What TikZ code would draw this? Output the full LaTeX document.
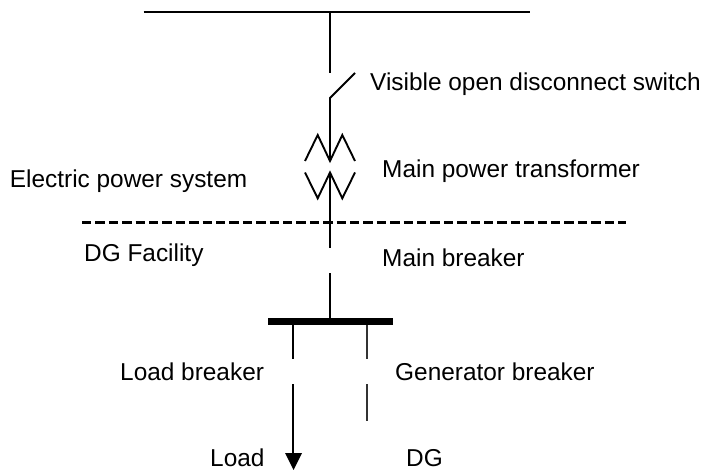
\documentclass[tikz,border=0pt]{standalone}
\usepackage{fontspec}
\setmainfont{Liberation Sans}
\tikzset{
  wire/.style={line width=1.9pt,black},
  thinwire/.style={line width=1.5pt,black!80},
  busbar/.style={line width=7pt,black},
  boundary/.style={line width=2.2pt,black,dash pattern=on 9.4pt off 4pt},
  lbl/.style={anchor=base west,inner sep=0pt,font=\fontsize{24.4}{26}\selectfont},
}
\begin{document}
\begin{tikzpicture}[x=1pt,y=-1pt]
\useasboundingbox (0,0) rectangle (703,470);
% coordinates
\coordinate (busL) at (143.5,11.7);
\coordinate (busR) at (530,11.7);
\coordinate (busT) at (330,11.7);
\coordinate (swA) at (330,73);
\coordinate (swB) at (355,73);
\coordinate (swC) at (330,98);
\coordinate (xfU) at (330,161);
\coordinate (xfL) at (330,172.5);
\coordinate (brkA) at (330,248);
\coordinate (brkB) at (330,273);
\coordinate (barT) at (330,318);
\coordinate (dashL) at (82,222.5);
\coordinate (dashR) at (626,222.5);
\coordinate (barL) at (268,321.5);
\coordinate (barR) at (393,321.5);
\coordinate (loadA) at (293,325);
\coordinate (loadB) at (293,359);
\coordinate (loadC) at (293,384);
\coordinate (loadD) at (293,455);
\coordinate (genA) at (367,325);
\coordinate (genB) at (367,359);
\coordinate (genC) at (367,384);
\coordinate (genD) at (367,421);
% lines
\draw[wire] (busL) -- (busR);
\draw[wire] (busT) -- (swA);
\draw[wire] (swB) -- (swC) -- (xfU);
\draw[wire,line join=miter] (305,161) -- (317.7,135) -- (xfU) -- (342.3,135) -- (355,161);
\draw[wire,line join=miter] (305,172.5) -- (317.7,198.3) -- (xfL) -- (342.3,198.3) -- (355,172.5);
\draw[wire] (xfL) -- (brkA);
\draw[boundary] (dashL) -- (dashR);
\draw[wire] (brkB) -- (barT);
\draw[busbar] (barL) -- (barR);
\draw[wire] (loadA) -- (loadB);
\draw[thinwire] (genA) -- (genB);
\draw[thinwire] (genC) -- (genD);
\draw[wire] (loadC) -- (loadD);
\fill[black] (285,453) -- (302,453) -- (293.5,470) -- cycle;
% labels
\node[lbl] (t1) at (370,90.7) {Visible open disconnect switch};
\node[lbl] (t2) at (382,177.7) {Main power transformer};
\node[lbl] (t3) at (9.7,187.7) {Electric power system};
\node[lbl] (t4) at (84,261.7) {DG Facility};
\node[lbl] (t5) at (382,266.7) {Main breaker};
\node[lbl] (t6) at (120,380) {Load breaker};
\node[lbl] (t7) at (395,380) {Generator breaker};
\node[lbl] (t8) at (210,466.7) {Load};
\node[lbl] (t9) at (406,466.7) {DG};
\end{tikzpicture}
\end{document}
